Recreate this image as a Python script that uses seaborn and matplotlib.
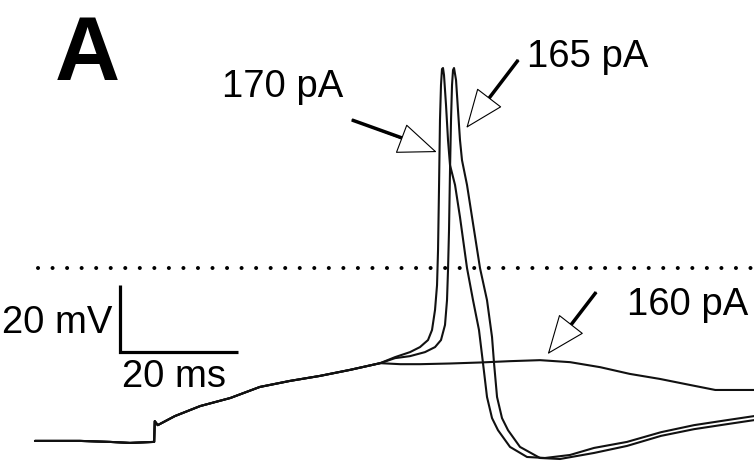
import numpy as np
import pandas as pd
import matplotlib
matplotlib.use("Agg")
import matplotlib.pyplot as plt
import seaborn as sns

# ---- membrane potential recordings (time in ms, Vm in mV) ----
# shared subthreshold part of all three sweeps (step onset at ~20 ms)
shared_t = [0.0, 7.6, 12.7, 16.1, 20.2, 20.3, 20.8, 23.7, 28.0, 33.1, 38.1,
            43.2, 48.3, 53.4, 58.5]
shared_v = [-51.6, -51.6, -51.9, -52.2, -51.9, -45.7, -46.9, -44.2, -41.2,
            -38.8, -35.5, -33.7, -32.2, -30.4, -28.4]

# 160 pA sweep: subthreshold depolarisation only
t_160 = [61.9, 65.3, 70.3, 75.4, 80.5, 85.6, 90.7, 95.8, 100.8, 105.9,
         111.0, 115.3, 121.9]
v_160 = [-28.7, -28.7, -28.5, -28.2, -27.8, -27.5, -28.1, -29.6, -31.6,
         -33.1, -34.9, -36.4, -36.4]

# 165 pA sweep: single action potential
t_165 = [61.02, 63.56, 66.10, 67.80, 68.81, 69.49, 69.83, 70.00, 70.17,
         70.34, 70.51, 70.68, 70.85, 71.02, 71.36, 71.69, 72.03, 72.37,
         73.22, 74.07, 75.42, 76.61, 77.46, 77.80, 78.31, 79.15, 80.17,
         82.20, 85.59, 88.98, 94.75, 100.34, 106.10, 111.69, 117.29, 121.86]
v_165 = [-26.9, -26.3, -25.1, -23.6, -21.5, -17.0, -9.6, -0.6, 11.3, 29.3,
         44.2, 54.6, 59.1, 59.7, 56.1, 47.2, 38.2, 32.2, 24.8, 15.2, 0.0,
         -9.6, -20.6, -28.4, -38.5, -44.8, -48.4, -53.4, -56.7, -57.0,
         -55.2, -53.1, -50.1, -48.1, -46.6, -45.4]

# 170 pA sweep: action potential with shorter latency
t_170 = [61.02, 63.56, 65.25, 66.61, 67.29, 67.80, 68.14, 68.31, 68.47,
         68.64, 68.81, 68.98, 69.15, 69.32, 69.66, 70.00, 70.34, 71.19,
         72.03, 73.22, 74.24, 75.25, 75.93, 76.61, 77.46, 78.47, 80.51,
         83.39, 86.44, 90.68, 94.75, 100.34, 106.10, 111.69, 117.29, 121.86]
v_170 = [-26.6, -25.1, -23.6, -21.5, -18.5, -12.5, -5.1, 5.4, 23.3, 44.2,
         54.6, 59.4, 59.7, 57.6, 48.7, 38.2, 30.7, 24.8, 15.2, 0.0, -9.6,
         -18.5, -28.4, -38.5, -44.8, -48.4, -53.4, -56.4, -56.7, -55.8,
         -53.7, -51.9, -49.0, -46.9, -45.4, -44.2]

sweep_labels = ["160 pA", "165 pA", "170 pA"]
threshold_mv = 0.0

frames = []
for name, tt, vv in zip(sweep_labels, [t_160, t_165, t_170],
                        [v_160, v_165, v_170]):
    frames.append(pd.DataFrame({"time_ms": shared_t + tt,
                                "vm_mV": shared_v + vv,
                                "sweep": name}))
traces = pd.concat(frames, ignore_index=True)

# ---- figure ----
sns.set_style("white")
plt.rcParams["font.family"] = ["Liberation Sans", "DejaVu Sans"]
plt.rcParams["text.color"] = "black"

fig = plt.figure(figsize=(7.54, 4.61), dpi=100)
ax = fig.add_axes([0, 0, 1, 1])
ax.set_xlim(-5.93, 121.86)
ax.set_ylim(-57.6, 80.0)
ax.axis("off")

ink = "#111111"
sns.lineplot(data=traces, x="time_ms", y="vm_mV", units="sweep",
             estimator=None, sort=False, color=ink, lw=1.5, ax=ax,
             legend=False)

# dotted reference level
ax.plot([0.5, 121.86], [threshold_mv, threshold_mv], color="black",
        lw=2.9, dashes=(0.01, 3.6), dash_capstyle="round",
        solid_capstyle="round")

# scale bar: 20 ms / 20 mV
sb_t, sb_v = 14.4, -25.1
ax.plot([sb_t, sb_t, sb_t + 20], [sb_v + 20, sb_v, sb_v], color="black",
        lw=2.3, solid_joinstyle="miter", solid_capstyle="butt")
ax.text(sb_t - 1.2, sb_v + 5.7, "20 mV", ha="right", va="baseline",
        fontsize=27.5, color="black")
ax.text(sb_t + 0.3, sb_v - 10.4, "20 ms", ha="left", va="baseline",
        fontsize=27.5, color="black")


def open_arrow(tail, base, tip):
    # thin outlined, white-filled head plus a heavy shaft
    ax.annotate("", xy=tip, xytext=tail,
                arrowprops=dict(arrowstyle="-|>,head_length=26,head_width=10.4",
                                mutation_scale=1, lw=0.8, fc="white",
                                ec="black", shrinkA=0, shrinkB=0))
    ax.plot([tail[0], base[0]], [tail[1], base[1]], color="black", lw=2.5,
            solid_capstyle="butt")


open_arrow((53.7, 44.2), (62.4, 38.7), (68.1, 34.6))
open_arrow((81.9, 62.1), (76.7, 50.1), (73.1, 41.8))
open_arrow((95.1, -7.2), (90.7, -17.3), (86.9, -25.7))

ax.text(31.7, 51.0, "170 pA", ha="left", va="baseline", fontsize=27.5,
        color="black")
ax.text(83.4, 60.0, "165 pA", ha="left", va="baseline", fontsize=27.5,
        color="black")
ax.text(100.3, -14.0, "160 pA", ha="left", va="baseline", fontsize=27.5,
        color="black")

fig.text(55 / 754, 1 - 80 / 461, "A", ha="left", va="baseline",
         fontsize=65, fontweight="bold", color="black")

fig.savefig("out.png", dpi=100)
